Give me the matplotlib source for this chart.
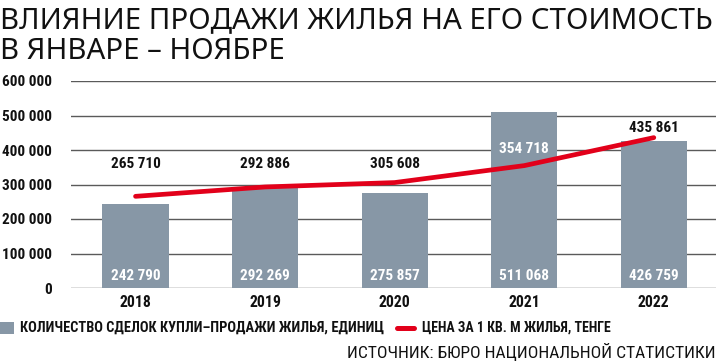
import matplotlib
matplotlib.use('Agg')
import matplotlib.pyplot as plt
from matplotlib import font_manager as fm
from matplotlib.patches import Rectangle
from matplotlib.lines import Line2D

# ---- data ----
years = ['2018', '2019', '2020', '2021', '2022']
deals = [242790, 292269, 275857, 511068, 426759]
price = [265710, 292886, 305608, 354718, 435861]
yticks = [0, 100000, 200000, 300000, 400000, 500000, 600000]

title_lines = ['ВЛИЯНИЕ ПРОДАЖИ ЖИЛЬЯ НА ЕГО СТОИМОСТЬ', 'В ЯНВАРЕ – НОЯБРЕ']
legend_deals = 'КОЛИЧЕСТВО СДЕЛОК КУПЛИ–ПРОДАЖИ ЖИЛЬЯ, ЕДИНИЦ'
legend_price = 'ЦЕНА ЗА 1 КВ. М ЖИЛЬЯ, ТЕНГЕ'
source = 'ИСТОЧНИК: БЮРО НАЦИОНАЛЬНОЙ СТАТИСТИКИ'


def has(name):
    try:
        fm.findfont(fm.FontProperties(family=name), fallback_to_default=False)
        return True
    except Exception:
        return False


NARROW = 'DejaVu Sans'
for cand in ['Liberation Sans Narrow', 'Roboto Condensed', 'Open Sans Condensed',
             'Liberation Sans', 'Roboto']:
    if has(cand):
        NARROW = cand
        break
TITLEF = 'Noto Sans' if has('Noto Sans') else 'DejaVu Sans'
NF = [NARROW, 'DejaVu Sans']

BAR = '#8797a6'
RED = '#e2001a'
GRID = '#5a5a5a'
TXT = '#111111'

W, H = 720, 364
fig = plt.figure(figsize=(W / 100, H / 100), dpi=100)
fig.patch.set_facecolor('white')
fig.canvas.draw()
R = fig.canvas.get_renderer()


def fx(px):
    return px / W


def fy(py):
    return 1 - py / H


def fit(t, target_px):
    bb = t.get_window_extent(renderer=R)
    t.set_fontsize(t.get_fontsize() * target_px / bb.width)


def fitsize(text, target_px, weight='bold', family=None):
    t = fig.text(0, 0, text, fontsize=10, fontweight=weight, family=family or NF)
    bb = t.get_window_extent(renderer=R)
    s = 10 * target_px / bb.width
    t.remove()
    return s


NUM = fitsize('265 710', 50)
YEAR = fitsize('2018', 32)

ax = fig.add_axes([fx(71), fy(288), fx(716) - fx(71), fy(81) - fy(288)])
x = list(range(len(years)))
ax.bar(x, deals, width=0.51, color=BAR, zorder=2)
ax.plot(x, price, color=RED, lw=3.4, solid_capstyle='round',
        solid_joinstyle='round', zorder=3)

ax.set_xlim(-0.498, 4.48)
ax.set_ylim(0, 600000)
ax.set_yticks(yticks)
ax.set_yticklabels([f'{v:,}'.replace(',', ' ') for v in yticks])
ax.set_xticks(x)
ax.set_xticklabels(years)
for s in ax.spines.values():
    s.set_visible(False)
ax.grid(axis='y', color=GRID, lw=1.0, zorder=1)
ax.tick_params(axis='both', length=0)
ax.tick_params(axis='y', pad=13.5)
ax.tick_params(axis='x', pad=5)
for lab in ax.get_yticklabels():
    lab.set_family(NF)
    lab.set_fontweight('bold')
    lab.set_fontsize(NUM)
    lab.set_color(TXT)
for lab in ax.get_xticklabels():
    lab.set_family(NF)
    lab.set_fontweight('bold')
    lab.set_fontsize(YEAR)
    lab.set_color(TXT)

# value labels for bars (white, near the base)
for i, v in enumerate(deals):
    ax.text(i, 35000, f'{v:,}'.replace(',', ' '), ha='center', va='center',
            color='white', fontsize=NUM, fontweight='bold', family=NF, zorder=4)

# value labels for the price line
for i, v in enumerate(price):
    inside = deals[i] > v + 60000
    if inside:
        ly, col = v + 48000, 'white'
    elif i == len(price) - 1:
        ly, col = v + 28000, TXT
    else:
        ly, col = 360000, TXT
    ax.text(i, ly, f'{v:,}'.replace(',', ' '), ha='center', va='center',
            color=col, fontsize=NUM, fontweight='bold', family=NF, zorder=4)

# title fitted to width
t1 = fig.text(0, fy(28), title_lines[0], ha='left', va='baseline',
              family=[TITLEF, 'DejaVu Sans'], fontsize=20, color=TXT)
fit(t1, 715)
fig.text(0, fy(59), title_lines[1], ha='left', va='baseline',
         family=[TITLEF, 'DejaVu Sans'], fontsize=t1.get_fontsize(), color=TXT)

# legend
fig.add_artist(Rectangle((fx(0), fy(334)), fx(14), fy(322) - fy(334),
                         transform=fig.transFigure, color=BAR, lw=0))
l1 = fig.text(fx(20), fy(328), legend_deals, ha='left', va='center', family=NF,
              fontweight='bold', fontsize=10, color=TXT)
fit(l1, 363)
fig.add_artist(Line2D([fx(397), fx(414)], [fy(328), fy(328)],
                      transform=fig.transFigure, color=RED, lw=3.6,
                      solid_capstyle='round'))
l2 = fig.text(fx(422), fy(328), legend_price, ha='left', va='center', family=NF,
              fontweight='bold', fontsize=10, color=TXT)
fit(l2, 188)

# source
s1 = fig.text(fx(716), fy(352), source, ha='right', va='center', family=NF,
              fontsize=10, color=TXT)
fit(s1, 368)

fig.savefig('out.png', dpi=100, facecolor='white')
